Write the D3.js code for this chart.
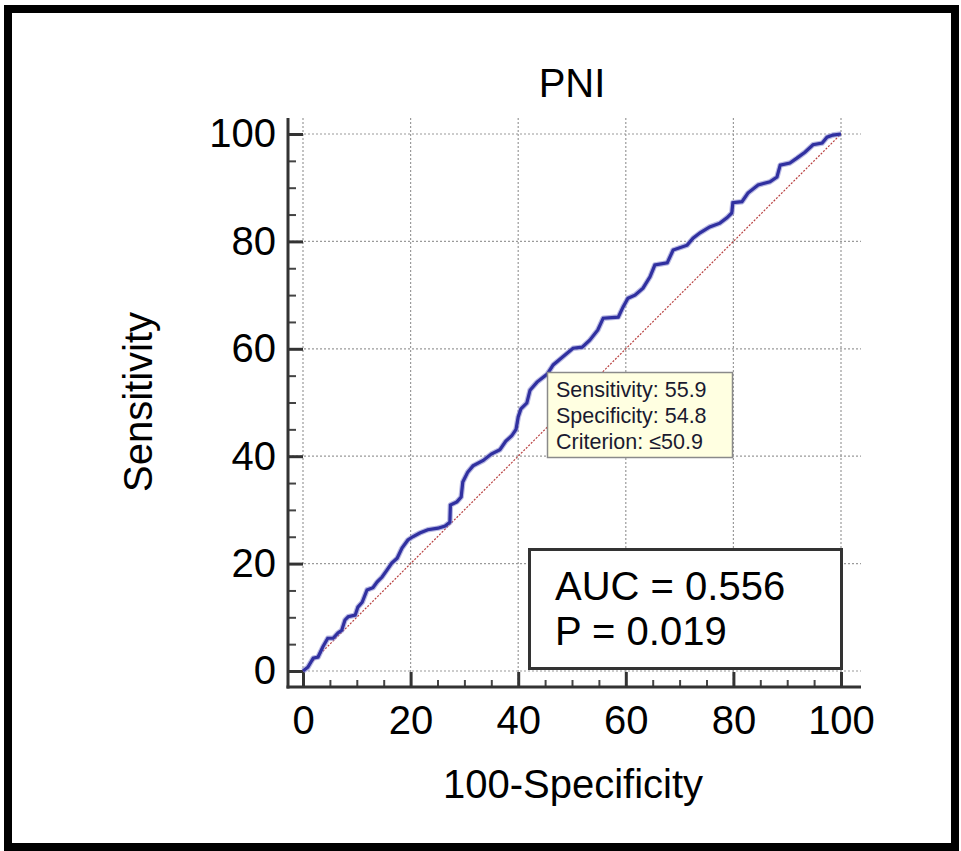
<!DOCTYPE html>
<html>
<head>
<meta charset="utf-8">
<script src="https://cdn.jsdelivr.net/npm/d3@7"></script>
<style>
  html, body { margin: 0; padding: 0; background: #fff; }
  svg { display: block; font-family: "Liberation Sans", Arial, sans-serif; }
</style>
</head>
<body>
<svg id="chart" width="961" height="851"></svg>
<script>
// ---- data ----
const title = "PNI";
const xLabel = "100-Specificity";
const yLabel = "Sensitivity";
const majorTicks = [0, 20, 40, 60, 80, 100];
const minorTicks = [5, 10, 15, 25, 30, 35, 45, 50, 55, 65, 70, 75, 85, 90, 95];
// ROC curve vertices: 100-Specificity (x) and Sensitivity (y)
const rocFpr = [0, 0.9, 1.9, 2.8, 3.7, 4.6, 5.6, 6.5, 7.2, 7.8, 8.4, 9.7, 10.2, 11.0, 11.9, 13.0, 13.8, 14.7, 15.6, 16.5,
  17.5, 18.4, 19.5, 20.4, 21.7, 23.2, 25.1, 26.4, 27.3, 27.4, 28.6, 29.4, 29.7, 30.6, 31.6, 33.5, 35.0, 36.6, 37.7, 38.8,
  39.6, 40.0, 40.5, 41.6, 42.2, 43.5, 45.4, 46.5, 48.3, 50.2, 51.9, 53.3, 54.8, 55.8, 58.6, 59.5, 60.4, 61.7, 63.2, 64.5,
  65.4, 67.7, 68.8, 71.4, 72.5, 73.8, 75.6, 77.5, 78.8, 79.7, 79.9, 81.6, 82.7, 84.6, 86.8, 88.1, 88.7, 90.5, 91.8, 93.3,
  94.8, 96.5, 97.4, 98.5, 100];
const rocTpr = [0, 0.7, 2.4, 2.6, 4.5, 6.1, 6.1, 7.1, 7.6, 9.5, 10.1, 10.4, 11.9, 12.8, 15.1, 15.5, 16.6, 17.5, 18.8, 20.1,
  21.0, 22.9, 24.4, 25.0, 25.7, 26.3, 26.6, 27.0, 27.7, 30.9, 31.5, 32.4, 35.2, 37.0, 38.2, 39.2, 40.4, 41.2, 42.8, 43.8,
  45.0, 47.3, 48.8, 49.9, 52.3, 53.8, 55.3, 57.0, 58.5, 60.1, 60.3, 61.6, 63.5, 65.7, 65.9, 67.8, 69.4, 70.0, 71.3, 73.4,
  75.6, 76.0, 78.4, 79.3, 80.6, 81.6, 82.7, 83.4, 84.4, 85.3, 87.2, 87.4, 89.0, 90.5, 91.1, 92.0, 94.2, 94.6, 95.5, 96.6,
  98.0, 98.3, 99.4, 99.8, 100];
const refLine = [0, 100];
const tooltipLines = ["Sensitivity: 55.9", "Specificity: 54.8", "Criterion: \u226450.9"];
const statLines = ["AUC = 0.556", "P = 0.019"];

// ---- drawing ----
const svg = d3.select("#chart");
const x = d3.scaleLinear().domain([0, 100]).range([303, 841]);
const y = d3.scaleLinear().domain([0, 100]).range([671, 134]);

// outer frame
svg.append("rect").attr("x", 0).attr("y", 0).attr("width", 961).attr("height", 851).attr("fill", "#fff");
svg.append("rect").attr("x", 8).attr("y", 9).attr("width", 947).attr("height", 838)
  .attr("fill", "none").attr("stroke", "#000").attr("stroke-width", 8);

const axisX0 = 288, axisY0 = 687, plotTop = 118, plotRight = 861;

// grid
const grid = svg.append("g").attr("stroke", "#9a9a9a").attr("stroke-width", 1.2).attr("stroke-dasharray", "2,2");
grid.selectAll("line.v").data(majorTicks).join("line")
  .attr("x1", d => x(d)).attr("x2", d => x(d)).attr("y1", plotTop).attr("y2", axisY0);
grid.selectAll("line.h").data(majorTicks).join("line")
  .attr("y1", d => y(d)).attr("y2", d => y(d)).attr("x1", axisX0).attr("x2", plotRight);

// axes
const fontSize = 40;
const yAxisMajor = d3.axisLeft(y).tickValues(majorTicks).tickSize(-15).tickPadding(12);
const gy = svg.append("g").attr("transform", `translate(${axisX0},0)`).call(yAxisMajor);
const yAxisMinor = d3.axisLeft(y).tickValues(minorTicks).tickSize(-8).tickFormat("");
const gym = svg.append("g").attr("transform", `translate(${axisX0},0)`).call(yAxisMinor);
const xAxisMajor = d3.axisBottom(x).tickValues(majorTicks).tickSize(-15).tickPadding(19);
const gx = svg.append("g").attr("transform", `translate(0,${axisY0})`).call(xAxisMajor);
const xAxisMinor = d3.axisBottom(x).tickValues(minorTicks).tickSize(-7).tickFormat("");
const gxm = svg.append("g").attr("transform", `translate(0,${axisY0})`).call(xAxisMinor);
[gy, gym, gx, gxm].forEach(g => {
  g.select(".domain").remove();
  g.selectAll("text").attr("font-size", fontSize).attr("font-family", "Liberation Sans, Arial, sans-serif").attr("fill", "#000");
});
gy.selectAll(".tick line").attr("stroke", "#333").attr("stroke-width", 3);
gx.selectAll(".tick line").attr("stroke", "#333").attr("stroke-width", 3);
gym.selectAll(".tick line").attr("stroke", "#444").attr("stroke-width", 2);
gxm.selectAll(".tick line").attr("stroke", "#444").attr("stroke-width", 2);
// axis lines
svg.append("line").attr("x1", axisX0).attr("x2", axisX0).attr("y1", plotTop).attr("y2", axisY0 + 1.5)
  .attr("stroke", "#333").attr("stroke-width", 3);
svg.append("line").attr("x1", axisX0 - 1.5).attr("x2", plotRight).attr("y1", axisY0).attr("y2", axisY0)
  .attr("stroke", "#333").attr("stroke-width", 3);

// reference diagonal
svg.append("line").attr("x1", x(refLine[0])).attr("y1", y(refLine[0])).attr("x2", x(refLine[1])).attr("y2", y(refLine[1]))
  .attr("stroke", "#b84040").attr("stroke-width", 1.2).attr("stroke-dasharray", "2,1.5");

// ROC curve
const pts = rocFpr.map((f, i) => [f, rocTpr[i]]);
const line = d3.line().x(d => x(d[0])).y(d => y(d[1]));
svg.append("path").datum(pts).attr("d", line).attr("fill", "none")
  .attr("stroke", "#8c8cd0").attr("stroke-width", 5.5).attr("stroke-linejoin", "round").attr("opacity", 0.6);
svg.append("path").datum(pts).attr("d", line).attr("fill", "none")
  .attr("stroke", "#3030a0").attr("stroke-width", 3.2).attr("stroke-linejoin", "miter");

// tooltip
svg.append("rect").attr("x", 547.5).attr("y", 372.5).attr("width", 185).attr("height", 85)
  .attr("fill", "#ffffe1").attr("stroke", "#8a8a8a").attr("stroke-width", 1.5);
svg.selectAll("text.tip").data(tooltipLines).join("text").attr("class", "tip")
  .attr("x", 556).attr("y", (d, i) => 397 + i * 26).attr("font-size", 21.5).attr("fill", "#1a1a30").text(d => d);

// AUC box
svg.append("rect").attr("x", 529.5).attr("y", 549.5).attr("width", 312).attr("height", 119)
  .attr("fill", "#fff").attr("stroke", "#333").attr("stroke-width", 3);
svg.selectAll("text.stat").data(statLines).join("text").attr("class", "stat")
  .attr("x", 555).attr("y", (d, i) => 600 + i * 45).attr("font-size", fontSize).attr("fill", "#000").text(d => d);

// titles
svg.append("text").attr("x", 572).attr("y", 97).attr("text-anchor", "middle").attr("font-size", fontSize).text(title);
svg.append("text").attr("x", 573).attr("y", 798).attr("text-anchor", "middle").attr("font-size", fontSize).text(xLabel);
svg.append("text").attr("transform", "translate(152,402) rotate(-90)").attr("text-anchor", "middle")
  .attr("font-size", fontSize).text(yLabel);
</script>
</body>
</html>
